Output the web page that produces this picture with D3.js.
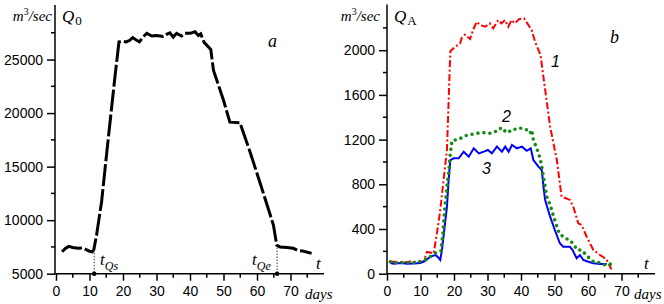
<!DOCTYPE html>
<html><head><meta charset="utf-8">
<script src="https://cdn.jsdelivr.net/npm/d3@7"></script>
<style>
body{margin:0;background:#fff;}
svg{display:block;}
.tick text{font-family:"Liberation Sans",Arial,sans-serif;font-size:14px;fill:#000;}
.ser{font-family:"Liberation Serif","Times New Roman",serif;font-style:italic;fill:#000;}
</style></head>
<body>
<svg id="c" width="664" height="304"></svg>
<script>
// ---------- data ----------
const q0Days = [1.8,2.8,3.8,5,6.5,8,9,10,10.8,11.3,12.1,13.6,15.2,17.6,18.8,20,21,22,22.9,23.8,24.9,26,27.1,28.6,30,32,33,34,35,36,37.5,38.5,40,41.5,42.5,43.2,44.2,46.2,47,50,51.9,54.9,58,61,64.9,65.9,66.9,69,70.8,72.3,74,76.3];
const q0Vals = [7050,7350,7550,7450,7380,7400,7250,7100,7050,7250,8600,11700,16450,23400,26650,26700,26650,26800,27050,26850,26650,27100,27450,27200,27250,27150,27350,27500,27100,27450,27200,27450,27450,27600,27250,27400,26600,25950,24000,21200,19150,19100,16300,13400,9550,7650,7500,7450,7370,7150,7100,6900];

const s1Days = [1,3,5,7,9,11,11.9,12.9,13.9,14.9,15.9,16.9,17.9,18.9,20.3,21.8,22.3,23.3,24.8,25.8,26.8,27.8,29.3,30.7,31.7,33.2,34.2,35.2,36.2,37.2,38.2,39.5,40.9,42.2,43.2,44.2,45.8,46.7,48.7,50.7,52.1,54.6,55.6,57.1,58.1,59.6,61.6,63.6,64.6,65.6,67];
const s1Vals = [110,105,100,110,105,110,195,190,180,360,570,840,1110,1990,2030,2060,2110,2140,2100,2190,2255,2225,2210,2240,2196,2270,2240,2270,2210,2270,2240,2280,2285,2225,2180,2076,1960,1760,1315,1017,690,660,600,451,436,331,212,167,147,123,39];

const s2Days = [1,2,3,5,7,9,11,12.4,13.9,15.4,16.1,16.7,17.1,17.7,18.1,18.4,18.9,19.4,21.4,22.9,23.9,25.9,27.9,29.4,30.8,32.3,33.8,34.8,35.8,36.8,38.7,40.2,41.5,42.7,43.2,43.7,44.7,45.7,46.2,46.7,47.2,47.7,48.7,49.6,50.4,51.4,53.1,54.6,55.8,56.8,58.1,59.4,61.6,63.6,65.1,67];
const s2Vals = [107,95,100,100,100,100,123,138,176,197,203,361,540,720,838,898,1077,1190,1203,1226,1241,1250,1262,1262,1256,1271,1301,1270,1292,1271,1301,1301,1292,1256,1286,1196,1122,1033,958,868,779,689,615,525,451,361,317,302,257,212,212,167,107,98,78,87];

const s3Days = [1,2,4,6,8,10,11.4,12.9,14.4,14.9,15.9,16.4,17.1,17.9,18.4,18.9,19.9,21.4,22.9,24.4,25.9,27.4,28.9,30.1,31.3,32.8,34.3,35.3,36.3,37.3,38.8,40.3,41.7,42.9,43.7,45.2,46.2,46.7,47.2,48.7,50.1,51.6,52.6,54.6,55.4,56.6,57.6,58.6,60.1,61.6,63.6,65.6];
const s3Vals = [95,90,95,90,92,95,114,152,167,158,123,212,391,600,838,1017,1032,1032,1092,1047,1122,1077,1092,1107,1077,1137,1092,1137,1092,1152,1122,1137,1100,1122,1017,958,928,779,660,510,391,272,242,242,212,138,167,123,107,93,87,87];

const xMajor = [0,10,20,30,40,50,60,70];
const xMinor = [5,15,25,35,45,55,65,75];
const yLMajor = [5000,10000,15000,20000,25000];
const yLMinor = [7500,12500,17500,22500,27500];
const yRMajor = [0,400,800,1200,1600,2000];
const yRMinor = [200,600,1000,1400,1800,2200];
const tQs = 11.4, tQe = 66.0;

// ---------- scales ----------
const svg = d3.select("#c");
const xL = d3.scaleLinear().domain([0,80]).range([56,324]);
const yL = d3.scaleLinear().domain([5000,30000]).range([273.7,6]);
const xR = d3.scaleLinear().domain([0,80]).range([387,655]);
const yR = d3.scaleLinear().domain([0,2400]).range([273.7,5.5]);

function axes(x, y, yMaj, yMin, x0){
  const gx = svg.append("g").attr("transform",`translate(0,${y.range()[0]})`);
  gx.call(d3.axisBottom(x).tickValues(xMajor).tickSize(7).tickSizeOuter(0).tickPadding(5));
  gx.select(".domain").attr("stroke-width",1.5).attr("d",`M${x0},0H${x.range()[1]}`);
  gx.selectAll(".tick line").attr("stroke-width",1.5);
  gx.selectAll(".tmin").data(xMinor).join("line").attr("x1",d=>x(d)).attr("x2",d=>x(d))
    .attr("y1",0).attr("y2",4).attr("stroke","#000").attr("stroke-width",1.5);
  const gy = svg.append("g").attr("transform",`translate(${x0},0)`);
  gy.call(d3.axisLeft(y).tickValues(yMaj).tickSize(8).tickSizeOuter(0).tickPadding(4).tickFormat(d3.format("d")));
  gy.select(".domain").attr("stroke-width",1.5).attr("d",`M0,${y.range()[0]}V${y.range()[1]-1}`);
  gy.selectAll(".tick line").attr("stroke-width",1.5);
  gy.selectAll(".tmin").data(yMin).join("line").attr("y1",d=>y(d)).attr("y2",d=>y(d))
    .attr("x1",0).attr("x2",-4).attr("stroke","#000").attr("stroke-width",1.5);
}
axes(xL, yL, yLMajor, yLMinor, 55);
axes(xR, yR, yRMajor, yRMinor, 387);

// ---------- curves ----------
const pts = (ds, vs) => ds.map((d,i)=>[d,vs[i]]);
const lineL = d3.line().x(d=>xL(d[0])).y(d=>yL(d[1]));
const lineR = d3.line().x(d=>xR(d[0])).y(d=>yR(d[1]));

svg.append("path").attr("d",lineL(pts(q0Days,q0Vals))).attr("fill","none")
  .attr("stroke","#000").attr("stroke-width",3).attr("stroke-dasharray","22,3");

svg.append("path").attr("d",lineR(pts(s1Days,s1Vals))).attr("fill","none")
  .attr("stroke","#ff0000").attr("stroke-width",2).attr("stroke-dasharray","7,2.5,2,2.5");
svg.append("path").attr("d",lineR(pts(s3Days,s3Vals))).attr("fill","none")
  .attr("stroke","#0000ff").attr("stroke-width",2);
svg.append("path").attr("d",lineR(pts(s2Days,s2Vals))).attr("fill","none")
  .attr("stroke","#138a13").attr("stroke-width",3.6).attr("stroke-linecap","round")
  .attr("stroke-dasharray","0,6");

// ---------- markers for tQs, tQe ----------
const interp = d => { const i = d3.bisectLeft(q0Days,d); const t=(d-q0Days[i-1])/(q0Days[i]-q0Days[i-1]); return q0Vals[i-1]+t*(q0Vals[i]-q0Vals[i-1]); };
[tQs,tQe].forEach(t=>{
  svg.append("line").attr("x1",xL(t)).attr("x2",xL(t)).attr("y1",yL(interp(t))+2).attr("y2",yL.range()[0])
    .attr("stroke","#333").attr("stroke-width",1).attr("stroke-dasharray","1.5,1.5");
  svg.append("circle").attr("cx",xL(t)).attr("cy",yL.range()[0]).attr("r",2.3).attr("fill","#000");
});

// ---------- text ----------
function unit(xEnd){
  const t = svg.append("text").attr("class","ser").attr("x",xEnd).attr("y",21).attr("text-anchor","end").attr("font-size",15);
  t.append("tspan").text("m");
  t.append("tspan").attr("font-size",10).attr("dy",-6).attr("font-style","normal").text("3");
  t.append("tspan").attr("dy",6).text("/sec");
}
unit(52); unit(380);
function qlab(x, sub){
  const t = svg.append("text").attr("class","ser").attr("x",x).attr("y",22).attr("font-size",17);
  t.append("tspan").text("Q");
  t.append("tspan").attr("font-size",13).attr("font-style","normal").attr("dy",3).attr("dx",1).text(sub);
}
qlab(62,"0"); qlab(394,"A");
svg.append("text").attr("class","ser").attr("x",268).attr("y",47).attr("font-size",18).text("a");
svg.append("text").attr("class","ser").attr("x",610).attr("y",43).attr("font-size",18).text("b");
svg.append("text").attr("class","ser").attr("x",316).attr("y",269).attr("font-size",17).text("t");
svg.append("text").attr("class","ser").attr("x",644).attr("y",269).attr("font-size",17).text("t");
svg.append("text").attr("class","ser").attr("x",305).attr("y",299).attr("font-size",15).text("days");
svg.append("text").attr("class","ser").attr("x",634).attr("y",299).attr("font-size",15).text("days");
function tlab(x, sub){
  const t = svg.append("text").attr("class","ser").attr("x",x).attr("y",265).attr("font-size",17);
  t.append("tspan").text("t");
  t.append("tspan").attr("font-size",12).attr("dy",5).text(sub);
}
tlab(100,"Qs"); tlab(252,"Qe");
const sans = {"font-family":"Liberation Sans,Arial,sans-serif","font-style":"italic","font-size":16};
[["1",551,67],["2",502,122],["3",482,174]].forEach(([s,x,y])=>{
  const t = svg.append("text").attr("x",x).attr("y",y).text(s);
  Object.entries(sans).forEach(([k,v])=>t.attr(k,v));
});
</script>
</body></html>
